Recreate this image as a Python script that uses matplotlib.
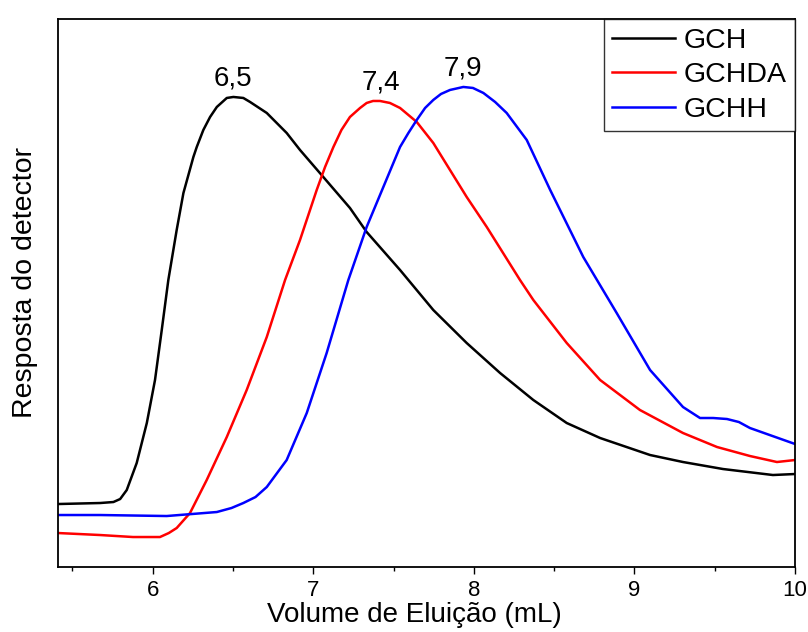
import matplotlib
matplotlib.use("Agg")
import matplotlib.pyplot as plt
from matplotlib.ticker import MultipleLocator

plt.rcParams['font.family'] = ['Liberation Sans', 'DejaVu Sans']

# curves (response in arbitrary units)
x_gch = [5.410, 5.672, 5.755, 5.797, 5.838, 5.900, 5.963, 6.014, 6.056, 6.097,
         6.149, 6.191, 6.253, 6.274, 6.315, 6.357, 6.399, 6.461, 6.502, 6.564,
         6.606, 6.710, 6.834, 6.917, 7.062, 7.228, 7.332, 7.540, 7.747, 7.955,
         8.163, 8.370, 8.578, 8.786, 9.097, 9.302, 9.551, 9.862, 10.0]
y_gch = [63, 64, 65, 68, 77, 104, 144, 187, 237, 287,
         337, 374, 410, 420, 437, 450, 460, 469, 470, 469,
         465, 454, 434, 417, 390, 359, 335, 297, 257, 224,
         194, 167, 144, 129, 112, 105, 98, 92, 93]

x_gchda = [5.410, 5.672, 5.877, 6.045, 6.100, 6.149, 6.232, 6.336, 6.461, 6.585,
           6.710, 6.824, 6.917, 7.021, 7.073, 7.125, 7.175, 7.228, 7.291, 7.332,
           7.372, 7.415, 7.477, 7.540, 7.644, 7.747, 7.851, 7.955, 8.080, 8.287,
           8.370, 8.578, 8.786, 9.034, 9.302, 9.514, 9.719, 9.887, 10.0]
y_gchda = [34, 32, 30, 30, 34, 39, 54, 87, 130, 177,
           230, 287, 327, 377, 400, 420, 437, 450, 459, 464,
           466, 466, 464, 459, 445, 424, 397, 370, 340, 287,
           267, 224, 187, 157, 134, 120, 111, 105, 107]

x_gchh = [5.410, 5.672, 6.087, 6.399, 6.490, 6.564, 6.640, 6.710, 6.834, 6.959,
          7.083, 7.218, 7.332, 7.436, 7.540, 7.592, 7.644, 7.696, 7.747, 7.795,
          7.851, 7.934, 7.994, 8.059, 8.132, 8.204, 8.329, 8.475, 8.681, 8.889,
          9.097, 9.302, 9.350, 9.408, 9.490, 9.576, 9.650, 9.719, 10.0]
y_gchh = [52, 52, 51, 55, 59, 64, 70, 80, 107, 154,
          214, 287, 340, 380, 420, 434, 447, 459, 467, 473,
          477, 480, 479, 474, 465, 454, 427, 377, 310, 254,
          197, 160, 155, 149, 149, 148, 145, 139, 123]

names = ['GCH', 'GCHDA', 'GCHH']
colors = ['black', 'red', 'blue']
peak_x = [6.50, 7.42, 7.93]
peak_txt = ['6,5', '7,4', '7,9']

fig = plt.figure(figsize=(8.08, 6.32), dpi=100)
ax = fig.add_axes([0.0718, 0.1028, 0.9122, 0.8672])

series = [(x_gch, y_gch), (x_gchda, y_gchda), (x_gchh, y_gchh)]
for (xs, ys), name, c, px, txt in zip(series, names, colors, peak_x, peak_txt):
    ax.plot(xs, ys, color=c, lw=1.8, label=name)
    ax.annotate(txt, xy=(px, max(ys)), xytext=(0, 4), textcoords='offset points',
                ha='center', va='bottom', fontsize=20)

ax.set_xlim(5.41, 10)
ax.set_ylim(0, 548)
ax.xaxis.set_major_locator(MultipleLocator(1))
ax.xaxis.set_minor_locator(MultipleLocator(0.5))
ax.tick_params(axis='x', which='major', direction='out', length=5, width=1,
               labelsize=16, pad=4)
ax.tick_params(axis='x', which='minor', direction='out', length=3, width=1)
ax.set_yticks([])
for s in ax.spines.values():
    s.set_linewidth(1.3)

ax.set_xlabel('Volume de Eluição (mL)', fontsize=20)
ax.set_ylabel('Resposta do detector', fontsize=20.5)
ax.xaxis.set_label_coords(0.484, -0.064)
ax.yaxis.set_label_coords(-0.027, 0.519)

leg = ax.legend(loc='upper right', fontsize=20.5, frameon=True, fancybox=False,
                edgecolor='black', borderaxespad=0, handlelength=2.2,
                handletextpad=0.3, labelspacing=0.3, borderpad=0.3)
leg.get_frame().set_linewidth(1.0)

fig.savefig('out.png', dpi=100)
